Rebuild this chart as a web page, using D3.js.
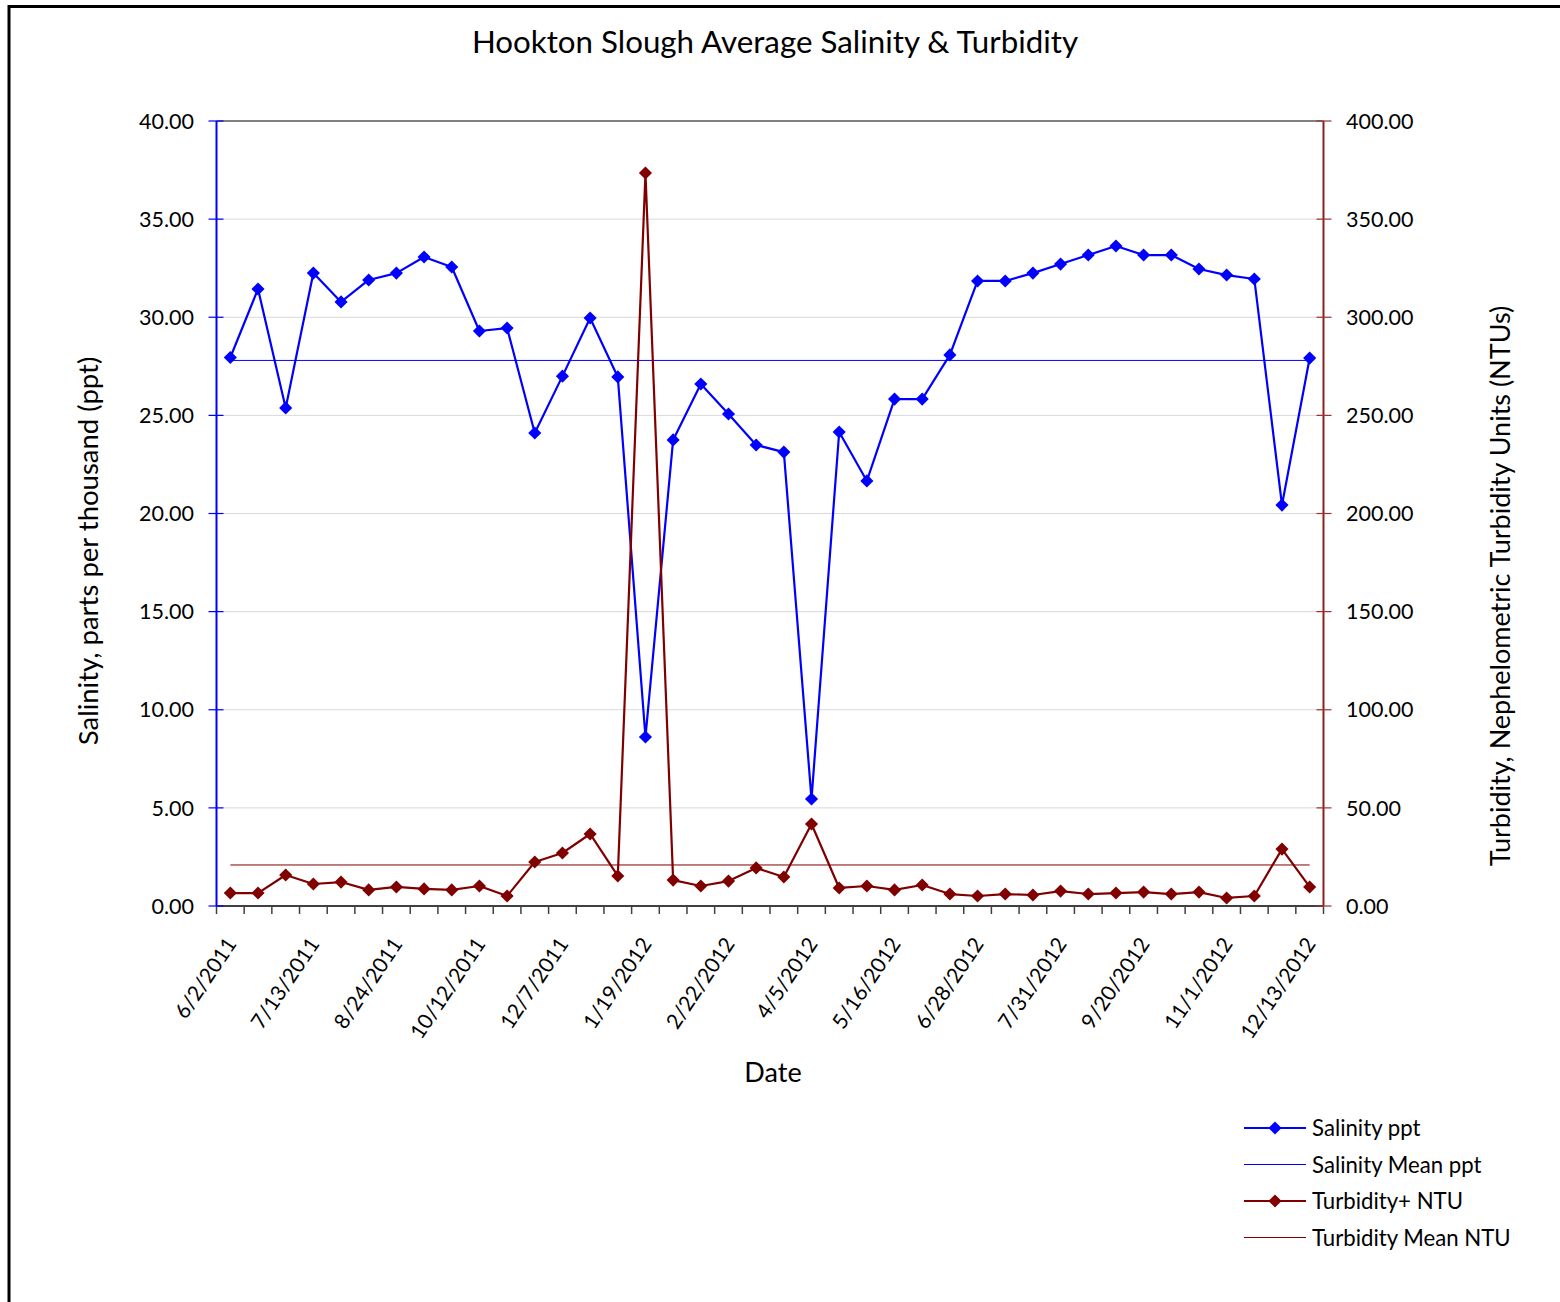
<!DOCTYPE html>
<html><head><meta charset="utf-8">
<script src="https://cdnjs.cloudflare.com/ajax/libs/d3/7.8.5/d3.min.js"></script>
<style>
body{margin:0;background:#fff;}
svg{display:block;font-family:Lato,"Open Sans",sans-serif;}
</style></head><body>
<svg id="chart" width="1560" height="1302"></svg>
<script>
const dates = ["6/2/2011","6/16/2011","6/30/2011","7/13/2011","7/27/2011","8/10/2011","8/24/2011","9/8/2011","9/26/2011","10/12/2011",
"10/27/2011","11/14/2011","12/7/2011","12/21/2011","1/5/2012","1/19/2012","2/2/2012","2/9/2012","2/22/2012","3/8/2012",
"3/22/2012","4/5/2012","4/19/2012","5/2/2012","5/16/2012","5/31/2012","6/14/2012","6/28/2012","7/12/2012","7/19/2012",
"7/31/2012","8/16/2012","9/6/2012","9/20/2012","10/4/2012","10/18/2012","11/1/2012","11/15/2012","11/29/2012","12/13/2012"];
const salinity = [27.95,31.44,25.38,32.25,30.78,31.90,32.25,33.07,32.56,29.30,
29.45,24.10,27.00,29.96,26.96,8.61,23.75,26.60,25.07,23.49,
23.13,5.45,24.15,21.66,25.83,25.83,28.08,31.85,31.85,32.25,
32.71,33.17,33.63,33.17,33.17,32.46,32.15,31.95,20.43,27.92];
const turbidity = [6.6,6.6,15.8,11.2,12.2,8.2,9.7,8.7,8.2,10.2,
5.1,22.4,27.0,36.7,15.3,373.5,13.2,10.2,12.7,19.4,
14.8,41.8,9.2,10.2,8.2,10.7,6.1,5.1,6.1,5.6,
7.6,6.1,6.6,7.1,6.1,7.1,4.1,5.1,29.0,9.7];
const salinityMean = 27.8;
const turbidityMean = 20.9;
const leftTicks = [0,5,10,15,20,25,30,35,40];
const rightTicks = [0,50,100,150,200,250,300,350,400];
const legendItems = [
  {label:"Salinity ppt", color:"#0000FF", marker:true, w:2},
  {label:"Salinity Mean ppt", color:"#0000FF", marker:false, w:1},
  {label:"Turbidity+ NTU", color:"#800000", marker:true, w:2},
  {label:"Turbidity Mean NTU", color:"#800000", marker:false, w:1}
];

const svg = d3.select("#chart");
const L = 216.5, R = 1323.5, T = 121, B = 906;
const BLUE = "#0000FF", RED = "#800000";

// outer border
svg.append("path").attr("d","M9,1310 L9,6.5 L1570,6.5").attr("fill","none").attr("stroke","#000").attr("stroke-width",3);

const x = d3.scaleBand().domain(dates).range([L,R]).padding(0);
const cx = d => x(d) + x.bandwidth()/2;
const yL = d3.scaleLinear().domain([0,40]).range([B,T]);
const yR = d3.scaleLinear().domain([0,400]).range([B,T]);

// gridlines
svg.append("g").selectAll("line").data(leftTicks.filter(v=>v>0&&v<40)).join("line")
  .attr("x1",L).attr("x2",R).attr("y1",d=>yL(d)).attr("y2",d=>yL(d))
  .attr("stroke","#d9d9d9").attr("stroke-width",1);
// top border of plot
svg.append("line").attr("x1",L).attr("x2",R).attr("y1",T).attr("y2",T).attr("stroke","#808080").attr("stroke-width",2);

// x axis
const xAxis = svg.append("g");
xAxis.append("line").attr("x1",L).attr("x2",R).attr("y1",B).attr("y2",B).attr("stroke","#404040").attr("stroke-width",2);
const bounds = dates.map(d=>x(d)).concat([R]);
xAxis.selectAll("line.t").data(bounds).join("line").attr("class","t")
  .attr("x1",d=>d).attr("x2",d=>d).attr("y1",B).attr("y2",B+8).attr("stroke","#404040").attr("stroke-width",1.5);
xAxis.selectAll("text").data(dates.filter((d,i)=>i%3===0)).join("text")
  .attr("transform",d=>`translate(${cx(d)+7},${B+38}) rotate(-56)`)
  .attr("text-anchor","end").attr("font-size",21).attr("fill","#000").text(d=>d);

// left axis
const la = svg.append("g");
la.append("line").attr("x1",L).attr("x2",L).attr("y1",T).attr("y2",B).attr("stroke",BLUE).attr("stroke-width",2);
la.selectAll("line.t").data(leftTicks).join("line").attr("class","t")
  .attr("x1",L-8).attr("x2",L+7).attr("y1",d=>yL(d)).attr("y2",d=>yL(d)).attr("stroke",BLUE).attr("stroke-width",1.2);
la.selectAll("text").data(leftTicks).join("text")
  .attr("x",194).attr("y",d=>yL(d)).attr("dy","0.36em").attr("text-anchor","end")
  .attr("font-size",21.5).text(d=>d3.format(".2f")(d));

// right axis
const ra = svg.append("g");
ra.append("line").attr("x1",R).attr("x2",R).attr("y1",T).attr("y2",B).attr("stroke","#8B2020").attr("stroke-width",2);
ra.selectAll("line.t").data(rightTicks).join("line").attr("class","t")
  .attr("x1",R-7).attr("x2",R+8).attr("y1",d=>yR(d)).attr("y2",d=>yR(d)).attr("stroke","#A03030").attr("stroke-width",1.2);
ra.selectAll("text").data(rightTicks).join("text")
  .attr("x",1346).attr("y",d=>yR(d)).attr("dy","0.36em").attr("text-anchor","start")
  .attr("font-size",21.5).text(d=>d3.format(".2f")(d));

// mean lines
svg.append("line").attr("x1",cx(dates[0])).attr("x2",cx(dates[dates.length-1]))
  .attr("y1",yL(salinityMean)).attr("y2",yL(salinityMean)).attr("stroke",BLUE).attr("stroke-width",1);
svg.append("line").attr("x1",cx(dates[0])).attr("x2",cx(dates[dates.length-1]))
  .attr("y1",yR(turbidityMean)).attr("y2",yR(turbidityMean)).attr("stroke",RED).attr("stroke-width",1);

const diamond = d3.symbol().type(d3.symbolDiamond2).size(110);
function series(vals, ys, color){
  const line = d3.line().x((d,i)=>cx(dates[i])).y(d=>ys(d));
  svg.append("path").datum(vals).attr("d",line).attr("fill","none").attr("stroke",color).attr("stroke-width",2.2).attr("stroke-linejoin","round");
  svg.append("g").selectAll("path").data(vals).join("path")
    .attr("transform",(d,i)=>`translate(${cx(dates[i])},${ys(d)})`).attr("d",diamond).attr("fill",color);
}
series(salinity, yL, BLUE);
series(turbidity, yR, RED);

// titles
svg.append("text").attr("x",775).attr("y",53).attr("text-anchor","middle").attr("font-size",31.3).text("Hookton Slough Average Salinity & Turbidity");
svg.append("text").attr("transform","translate(98,551) rotate(-90)").attr("text-anchor","middle").attr("font-size",27.5).text("Salinity, parts per thousand (ppt)");
svg.append("text").attr("transform","translate(1510,586) rotate(-90)").attr("text-anchor","middle").attr("font-size",27).text("Turbidity, Nephelometric Turbidity Units (NTUs)");
svg.append("text").attr("x",773).attr("y",1082).attr("text-anchor","middle").attr("font-size",27).text("Date");

// legend
const lg = svg.append("g").selectAll("g").data(legendItems).join("g")
  .attr("transform",(d,i)=>`translate(1244,${1128+i*36.5})`);
lg.append("line").attr("x1",0).attr("x2",62).attr("y1",0).attr("y2",0).attr("stroke",d=>d.color).attr("stroke-width",d=>d.w);
lg.filter(d=>d.marker).append("path").attr("transform","translate(31,0)").attr("d",diamond).attr("fill",d=>d.color);
lg.append("text").attr("x",68).attr("y",0).attr("dy","0.36em").attr("font-size",22.2).text(d=>d.label);
</script>
</body></html>
